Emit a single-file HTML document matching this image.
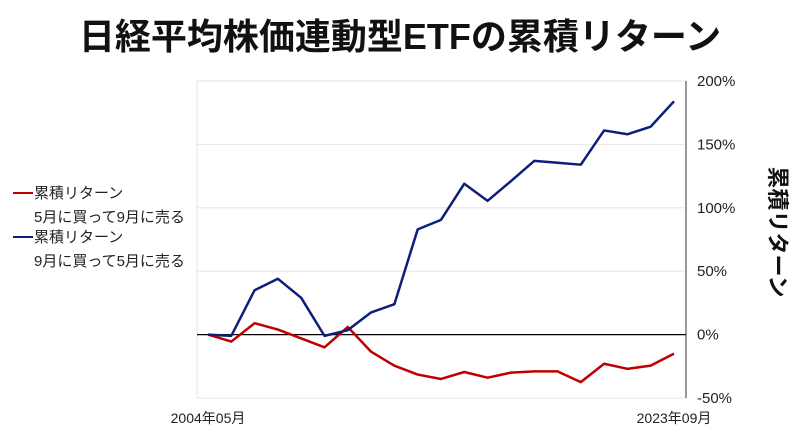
<!DOCTYPE html>
<html><head><meta charset="utf-8"><style>
body{margin:0;background:#fff;font-family:"Liberation Sans","Noto Sans CJK JP",sans-serif;}
svg text{font-family:"Liberation Sans","Noto Sans CJK JP",sans-serif;}
</style></head><body>
<svg id="chart" width="800" height="443" viewBox="0 0 800 443">
<text x="400" y="49" text-anchor="middle" font-size="36" font-weight="bold" fill="#111">日経平均株価連動型ETFの累積リターン</text>
<rect x="197" y="81" width="489" height="317" fill="none" stroke="#e6e6e6"/>
<g id="grid"></g>
<g id="lines"></g>
<line x1="686" y1="81" x2="686" y2="398" stroke="#333" stroke-width="1"/>
<text transform="translate(770,232) rotate(90)" text-anchor="middle" font-size="22" font-weight="bold" fill="#111">累積リターン</text>
<g>
<line x1="13" y1="193" x2="33" y2="193" stroke="#c00000" stroke-width="2"/>
<text x="34" y="198" font-size="15" fill="#222">累積リターン</text>
<text x="34" y="222" font-size="15" fill="#222">5月に買って9月に売る</text>
<line x1="13" y1="237" x2="33" y2="237" stroke="#0d1f7a" stroke-width="2"/>
<text x="34" y="242" font-size="15" fill="#222">累積リターン</text>
<text x="34" y="266" font-size="15" fill="#222">9月に買って5月に売る</text>
</g>
</svg>
<script>
const years = ["2004年05月","2005","2006","2007","2008","2009","2010","2011","2012","2013","2014","2015","2016","2017","2018","2019","2020","2021","2022","2023","2023年09月"];
const redSeries = [0,-5.5,9,4,-3,-10,6,-13.5,-24.5,-31.5,-35,-29.5,-34,-30,-29,-29,-37.5,-23,-27,-24.5,-15];
const blueSeries = [0,-1,35,44,29,-1,3.5,17.5,24,83,90.5,119,105.5,121,137,135.5,134,161,158,164,184];
const yTicks = [200,150,100,50,0,-50];
const xLabels = ["2004年05月","2023年09月"];
const NS="http://www.w3.org/2000/svg";
const x0=208,x1=674,yTop=81,yBot=398,vMax=200,vMin=-50;
const xs=i=>x0+(x1-x0)*i/(years.length-1);
const ys=v=>yTop+(vMax-v)/(vMax-vMin)*(yBot-yTop);
const grid=document.getElementById('grid'),lines=document.getElementById('lines'),svg=document.getElementById('chart');
yTicks.forEach(t=>{
  const l=document.createElementNS(NS,'line');
  
  
  l.setAttribute('x1',197);l.setAttribute('x2',686);l.setAttribute('y1',ys(t));l.setAttribute('y2',ys(t));
  l.setAttribute('stroke',t===0?'#000':'#e6e6e6');l.setAttribute('stroke-width',t===0?1.2:1);
  grid.appendChild(l);
  const tx=document.createElementNS(NS,'text');
  
  
  tx.setAttribute('x',697);tx.setAttribute('y',ys(t)+5);tx.setAttribute('font-size','15');tx.setAttribute('fill','#222');
  tx.textContent=t+'%';svg.appendChild(tx);
});
xLabels.forEach((lab,k)=>{
  const i=years.indexOf(lab);
  const tx=document.createElementNS(NS,'text');
  
  
  tx.setAttribute('x',xs(i));tx.setAttribute('y',423);tx.setAttribute('text-anchor','middle');tx.setAttribute('font-size','14');tx.setAttribute('fill','#222');
  tx.textContent=lab;svg.appendChild(tx);
});
function draw(series,color,name){
  const p=document.createElementNS(NS,'polyline');
  
  
  p.setAttribute('points',series.map((v,i)=>xs(i)+','+ys(v)).join(' '));
  p.setAttribute('fill','none');p.setAttribute('stroke',color);p.setAttribute('stroke-width','2.5');p.setAttribute('stroke-linejoin','round');
  lines.appendChild(p);
}
draw(redSeries,'#c00000','red-series-line');
draw(blueSeries,'#0d1f7a','blue-series-line');
</script>
</body></html>
